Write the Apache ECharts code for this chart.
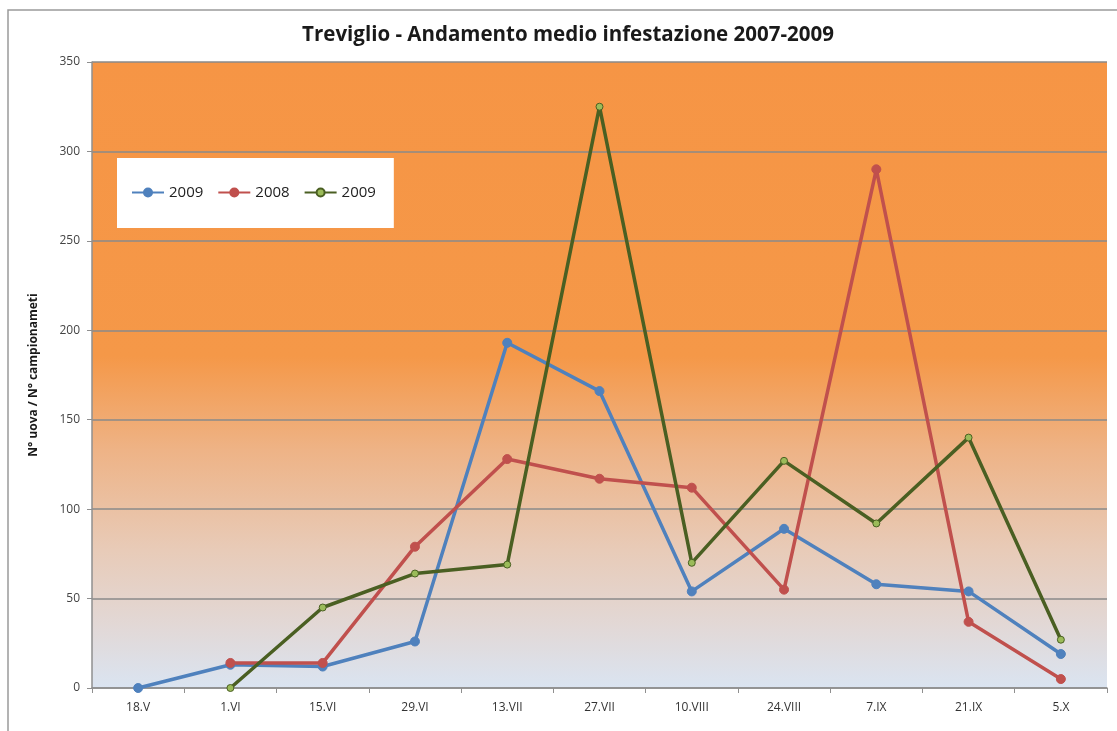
<!DOCTYPE html>
<html>
<head>
<meta charset="utf-8">
<script src="https://cdn.jsdelivr.net/npm/echarts@6/dist/echarts.min.js"></script>
<style>
  html, body { margin: 0; padding: 0; background: #fff; }
  #main { width: 1117px; height: 731px; }
</style>
</head>
<body>
<div id="main"></div>
<script>
// date di campionamento
var categories = ['18.V', '1.VI', '15.VI', '29.VI', '13.VII', '27.VII', '10.VIII', '24.VIII', '7.IX', '21.IX', '5.X'];
var yTicks = [0, 50, 100, 150, 200, 250, 300, 350];

// valori
var blue2009 = [0, 13, 12, 26, 193, 166, 54, 89, 58, 54, 19];
var red2008 = ['-', 14, 14, 79, 128, 117, 112, 55, 290, 37, 5];
var green2009 = ['-', 0, 45, 64, 69, 325, 70, 127, 92, 140, 27];

var chart = echarts.init(document.getElementById('main'));

function lineSeries(name, data, lineColor, markColor, size) {
  return {
    name: name,
    type: 'line',
    data: data,
    symbol: 'circle',
    symbolSize: size,
    showAllSymbol: true,
    lineStyle: { color: lineColor, width: 3.5 },
    itemStyle: { color: markColor, borderColor: lineColor, borderWidth: 1 },
    emphasis: { disabled: true }
  };
}

chart.setOption({
  animation: false,
  textStyle: { fontFamily: 'Open Sans' },
  title: {
    text: 'Treviglio - Andamento medio infestazione 2007-2009',
    left: 563,
    textAlign: 'center',
    top: 20,
    textStyle: { fontSize: 20.5, fontWeight: 'bold', color: '#1a1a1a', fontFamily: 'Open Sans' }
  },
  graphic: [{
    type: 'rect',
    shape: { x: 8, y: 10, width: 1120, height: 740 },
    style: { fill: 'none', stroke: '#9a9a9a', lineWidth: 1.5 },
    z: -1
  }],
  legend: {
    left: 117,
    top: 158,
    orient: 'horizontal',
    padding: [27, 14, 28, 14],
    backgroundColor: '#ffffff',
    itemWidth: 32,
    itemHeight: 10,
    itemGap: 14,
    textStyle: { fontSize: 15, color: '#222', fontFamily: 'Open Sans' },
    data: ['2009', '2008', '2009 ']
  },
  grid: {
    left: 92,
    right: 10,
    top: 62,
    bottom: 43,
    show: true,
    borderWidth: 0,
    backgroundColor: new echarts.graphic.LinearGradient(0, 0, 0, 1, [
      { offset: 0, color: '#F69545' },
      { offset: 0.47, color: '#F59848' },
      { offset: 0.62, color: '#EEB386' },
      { offset: 0.78, color: '#E8CBB8' },
      { offset: 0.9, color: '#E2D8D6' },
      { offset: 1, color: '#DAE4F1' }
    ])
  },
  xAxis: {
    type: 'category',
    data: categories,
    boundaryGap: true,
    axisLine: { lineStyle: { color: '#8f8f8f', width: 1.5 } },
    axisTick: { show: true, length: 5, lineStyle: { color: '#8f8f8f' } },
    axisLabel: { color: '#333', fontSize: 12, margin: 14 }
  },
  yAxis: {
    type: 'value',
    min: 0,
    max: 350,
    interval: 50,
    name: 'N° uova / N° campionameti',
    nameLocation: 'middle',
    nameRotate: 90,
    nameGap: 52,
    nameTextStyle: { fontSize: 12, fontWeight: 'bold', color: '#1a1a1a' },
    axisLine: { show: true, lineStyle: { color: '#8f8f8f', width: 1.5 } },
    axisTick: { show: true, length: 5, lineStyle: { color: '#8f8f8f' } },
    axisLabel: { color: '#444', fontSize: 12, margin: 12 },
    splitLine: { lineStyle: { color: '#8a8a8a', width: 1.5 } }
  },
  series: [
    lineSeries('2009', blue2009, '#4F81BD', '#4F81BD', 9),
    lineSeries('2008', red2008, '#C0504D', '#C0504D', 9),
    lineSeries('2009 ', green2009, '#4A5F22', '#9BBB59', 7)
  ]
});
</script>
</body>
</html>
